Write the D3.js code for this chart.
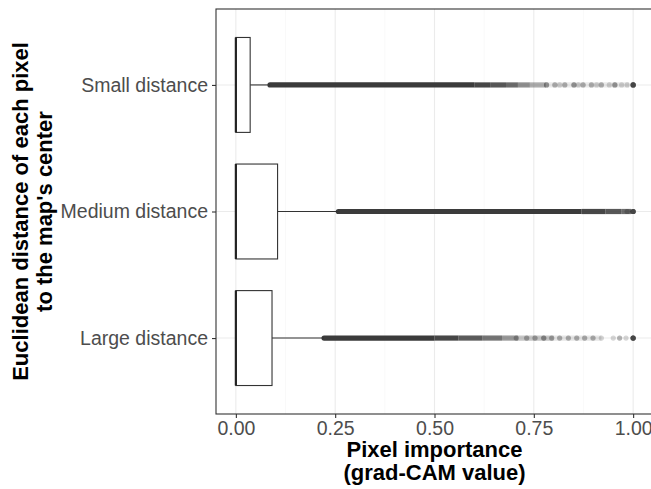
<!DOCTYPE html>
<html>
<head>
<meta charset="utf-8">
<script src="https://cdn.jsdelivr.net/npm/d3@7"></script>
<style>
  body { margin: 0; background: #fff; }
  svg { display: block; }
</style>
</head>
<body>
<div id="chart"></div>
<script>
// categories, top to bottom
const groups = ["Small distance", "Medium distance", "Large distance"];
// box statistics
const q1 = [0, 0, 0];
const medians = [0, 0, 0];
const q3 = [0.036, 0.105, 0.091];
const whiskerHi = [0.086, 0.258, 0.222];
const xTicks = [0, 0.25, 0.5, 0.75, 1];
const xMinor = [0.125, 0.375, 0.625, 0.875];

// stretches where outliers pile up into a solid band: [from, to, darkness]
const smallRuns = [[0.086, 0.60, 0.96], [0.60, 0.64, 0.9], [0.64, 0.68, 0.82], [0.68, 0.71, 0.72],
  [0.71, 0.74, 0.55], [0.74, 0.78, 0.4], [0.78, 0.99, 0.1]];
const mediumRuns = [[0.258, 0.87, 0.96], [0.87, 0.93, 0.9], [0.93, 0.97, 0.82], [0.97, 0.995, 0.72]];
const largeRuns = [[0.222, 0.50, 0.96], [0.50, 0.56, 0.9], [0.56, 0.62, 0.8], [0.62, 0.67, 0.68],
  [0.67, 0.71, 0.5], [0.71, 0.80, 0.28], [0.80, 0.92, 0.12]];

// single outliers that still show on their own: [value, points stacked there]
const smallPts = [[0.782,3],[0.803,2],[0.815,1],[0.828,2],[0.851,3],[0.862,1],[0.874,2],[0.895,2],
  [0.908,1],[0.92,2],[0.94,1],[0.954,3],[0.971,1],[0.985,1],[1.0,10]];
const mediumPts = [[0.985,2],[1.0,10]];
const largePts = [[0.706,2],[0.732,2],[0.753,2],[0.775,3],[0.795,2],[0.815,2],[0.837,2],[0.858,2],
  [0.878,2],[0.899,2],[0.92,1],[0.95,1],[0.966,2],[0.982,1],[1.0,10]];

const runs = [smallRuns, mediumRuns, largeRuns];
const singles = [smallPts, mediumPts, largePts];

const width = 651, height = 489;
const panel = {left: 216, top: 9, right: 653, bottom: 414};
const r = 2.6;

const svg = d3.select("#chart").append("svg")
    .attr("width", width)
    .attr("height", height);

const x = d3.scaleLinear()
    .domain([-0.05, 1.05])
    .range([panel.left, panel.right]);

const y = d3.scalePoint()
    .domain(groups)
    .range([panel.top, panel.bottom])
    .padding(0.6);

const boxH = y.step() * 0.75;

// grid
svg.append("g").selectAll("line")
    .data(xMinor)
    .join("line")
    .attr("x1", d => x(d)).attr("x2", d => x(d))
    .attr("y1", panel.top).attr("y2", panel.bottom)
    .attr("stroke", "#f5f5f5")
    .attr("stroke-width", 0.6);

svg.append("g").selectAll("line")
    .data(xTicks)
    .join("line")
    .attr("x1", d => x(d)).attr("x2", d => x(d))
    .attr("y1", panel.top).attr("y2", panel.bottom)
    .attr("stroke", "#ebebeb")
    .attr("stroke-width", 1.1);

svg.append("g").selectAll("line")
    .data(groups)
    .join("line")
    .attr("x1", panel.left).attr("x2", panel.right)
    .attr("y1", d => y(d)).attr("y2", d => y(d))
    .attr("stroke", "#ebebeb")
    .attr("stroke-width", 1.1);

// outlier bands
const bandData = [];
runs.forEach((arr, i) => arr.forEach((d, j) => bandData.push({g: groups[i], from: d[0], to: d[1], a: d[2], first: j == 0})));

svg.append("g").selectAll("path")
    .data(bandData)
    .join("path")
    .attr("d", d => {
        const cy = y(d.g), x0 = x(d.from), x1 = x(d.to);
        if (d.first) {
            return "M" + x0 + "," + (cy - r) + "L" + x1 + "," + (cy - r) + "L" + x1 + "," + (cy + r) +
                "L" + x0 + "," + (cy + r) + "A" + r + "," + r + " 0 0 1 " + x0 + "," + (cy - r) + "Z";
        }
        return "M" + x0 + "," + (cy - r) + "L" + x1 + "," + (cy - r) + "L" + x1 + "," + (cy + r) + "L" + x0 + "," + (cy + r) + "Z";
    })
    .attr("fill", "#333")
    .attr("fill-opacity", d => d.a);

// single outliers
const pts = [];
singles.forEach((arr, i) => {
    arr.forEach(([v, n]) => {
        for (let k = 0; k < n; k++) pts.push({g: groups[i], v: v});
    });
});
svg.append("g").selectAll("circle")
    .data(pts)
    .join("circle")
    .attr("cx", d => x(d.v))
    .attr("cy", d => y(d.g))
    .attr("r", r)
    .attr("fill", "#333")
    .attr("fill-opacity", 0.2);

// boxes
const boxes = svg.append("g").selectAll("g")
    .data(groups)
    .join("g");

boxes.append("line")
    .attr("x1", (d, i) => x(q3[i]))
    .attr("x2", (d, i) => x(whiskerHi[i]))
    .attr("y1", d => y(d))
    .attr("y2", d => y(d))
    .attr("stroke", "#333")
    .attr("stroke-width", 1.1);

boxes.append("rect")
    .attr("x", (d, i) => x(q1[i]))
    .attr("width", (d, i) => x(q3[i]) - x(q1[i]))
    .attr("y", d => y(d) - boxH / 2)
    .attr("height", boxH)
    .attr("fill", "#fff")
    .attr("stroke", "#333")
    .attr("stroke-width", 1.1);

boxes.append("line")
    .attr("x1", (d, i) => x(medians[i]))
    .attr("x2", (d, i) => x(medians[i]))
    .attr("y1", d => y(d) - boxH / 2)
    .attr("y2", d => y(d) + boxH / 2)
    .attr("stroke", "#222")
    .attr("stroke-width", 2.2);

// panel border
svg.append("rect")
    .attr("x", panel.left)
    .attr("y", panel.top)
    .attr("width", panel.right - panel.left)
    .attr("height", panel.bottom - panel.top)
    .attr("fill", "none")
    .attr("stroke", "#333")
    .attr("stroke-width", 1.1);

// axes
const xAxis = svg.append("g")
    .attr("transform", "translate(0," + panel.bottom + ")")
    .call(d3.axisBottom(x).tickValues(xTicks).tickFormat(d3.format(".2f")).tickSizeOuter(0).tickSize(4).tickPadding(3));
const yAxis = svg.append("g")
    .attr("transform", "translate(" + panel.left + ",0)")
    .call(d3.axisLeft(y).tickSizeOuter(0).tickSize(4).tickPadding(4));

[xAxis, yAxis].forEach(a => {
    a.select(".domain").remove();
    a.selectAll(".tick line").attr("stroke", "#333").attr("stroke-width", 1.1);
    a.selectAll(".tick text")
        .attr("fill", "#4d4d4d")
        .style("font-family", "'Liberation Sans', Arial, sans-serif")
        .style("font-size", "19.5px");
});

// titles
const titleStyle = sel => sel
    .attr("text-anchor", "middle")
    .attr("fill", "#000")
    .style("font-family", "'Liberation Sans', Arial, sans-serif")
    .style("font-size", "22px")
    .style("font-weight", "bold");

const cx = (panel.left + panel.right) / 2;
svg.append("text").attr("x", cx).attr("y", 457).text("Pixel importance").call(titleStyle);
svg.append("text").attr("x", cx).attr("y", 480).text("(grad-CAM value)").call(titleStyle);

const cy = (panel.top + panel.bottom) / 2;
svg.append("text")
    .attr("transform", "translate(28," + cy + ") rotate(-90)")
    .text("Euclidean distance of each pixel").call(titleStyle);
svg.append("text")
    .attr("transform", "translate(52," + cy + ") rotate(-90)")
    .text("to the map's center").call(titleStyle);
</script>
</body>
</html>
